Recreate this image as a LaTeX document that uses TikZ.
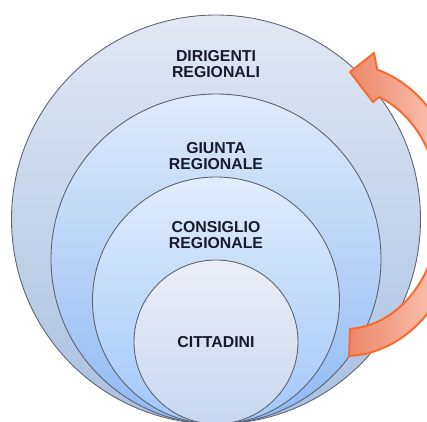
\documentclass[tikz,border=0pt]{standalone}
\usepackage{fontspec}
\setmainfont{Liberation Sans}
\usepackage{tikz}

\definecolor{ringedge}{RGB}{95,98,110}
\definecolor{labeltext}{RGB}{25,25,45}
\definecolor{arrowedge}{RGB}{250,105,45}

\tikzset{
    ring/.style={circle, draw=ringedge, line width=0.5pt, inner sep=0pt},
    tag/.style={font=\fontsize{9}{9.2}\selectfont\bfseries, text=labeltext, align=center, inner sep=0pt}
}

\begin{document}
\begin{tikzpicture}
    \useasboundingbox (0, 0.06) rectangle (8.54, 8.48);
    \clip (0, 0.06) rectangle (8.54, 8.48);

    % nested circles, all touching at the bottom
    \node[ring, minimum size=8.18cm, top color={rgb,255:red,226;green,232;blue,243}, bottom color={rgb,255:red,168;green,192;blue,226}] (dirigenti) at (4.32, 4.09) {};
    \node[ring, minimum size=6.60cm, top color={rgb,255:red,224;green,234;blue,250}, bottom color={rgb,255:red,142;green,186;blue,245}] (giunta) at (4.32, 3.30) {};
    \node[ring, minimum size=4.94cm, top color={rgb,255:red,226;green,236;blue,252}, bottom color={rgb,255:red,160;green,200;blue,250}] (consiglio) at (4.32, 2.47) {};
    \node[ring, minimum size=3.28cm, top color={rgb,255:red,235;green,238;blue,246}, bottom color={rgb,255:red,200;green,215;blue,240}] (cittadini) at (4.32, 1.64) {};

    \node[tag] (dirigentitext) at (4.32, 7.20) {DIRIGENTI\\REGIONALI};
    \node[tag] (giuntatext) at (4.32, 5.36) {GIUNTA\\REGIONALE};
    \node[tag] (consigliotext) at (4.32, 3.78) {CONSIGLIO\\REGIONALE};
    \node[tag] (cittadinitext) at (4.32, 1.63) {CITTADINI};

    % curved block arrow on the right
    \draw[arrowedge, line width=1.1pt, line join=round,
          left color={rgb,255:red,235;green,135;blue,105},
          right color={rgb,255:red,255;green,212;blue,196}]
        (6.982, 1.362) arc[start angle=-88, end angle=74, x radius=2.34, y radius=2.92]
        -- (7.48, 7.42) -- (7.00, 7.04) -- (7.46, 6.44)
        -- (7.581, 6.541) arc[start angle=69, end angle=-87, x radius=1.90, y radius=2.40]
        -- cycle;

\end{tikzpicture}
\end{document}
